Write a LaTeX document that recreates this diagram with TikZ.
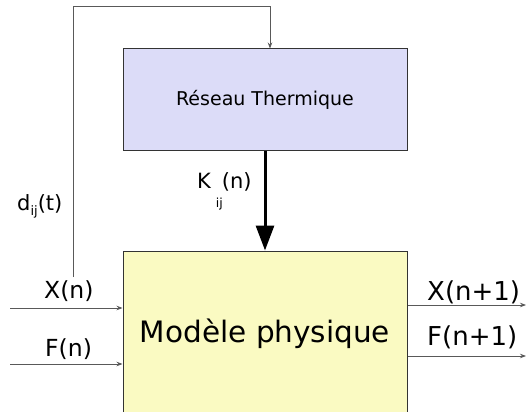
\documentclass[tikz,border=0pt]{standalone}
\usepackage{fontspec}
\setmainfont{DejaVu Sans}
\usetikzlibrary{arrows.meta,calc}

\definecolor{fondreseau}{RGB}{220,220,248}
\definecolor{fondmodele}{RGB}{250,250,194}

\begin{document}
\begin{tikzpicture}[x=1pt, y=-1pt,
    bloc/.style={draw=black!80, line width=1pt, rectangle, minimum width=284pt, inner sep=0pt},
    flux/.style={draw=black!65, line width=0.8pt, -{Stealth[length=6pt,width=4.5pt]}},
    lbl/.style={anchor=base west, inner sep=0pt}
]
    \useasboundingbox (0,0) rectangle (528,412);

    % Blocs
    \node[bloc, fill=fondreseau, minimum height=101pt, font=\fontsize{19}{21}\selectfont] (reseau) at (265,99.5) {Réseau Thermique};
    \node[bloc, fill=fondmodele, minimum height=166pt, font=\fontsize{29.5}{32}\selectfont] (modele) at (265,334) {Modèle physique};

    % Couplage
    \draw[line width=3pt, -{Triangle[length=25pt,width=18pt]}] (reseau.south) -- (modele.north);
    \node[lbl, font=\fontsize{21}{23}\selectfont] (kij) at (197,188) {K\kern5pt\raisebox{-19pt}{\fontsize{12.5}{13}\selectfont ij}\kern-1pt(n)};

    % Retour
    \coordinate (fbbas) at (73,277);
    \coordinate (fbhaut) at (270,6);
    \draw[flux] (fbbas) |- (fbhaut) -- (fbhaut |- reseau.north);
    \node[lbl, font=\fontsize{21}{23}\selectfont] (dij) at (17,210) {d\raisebox{-5pt}{\fontsize{13}{13}\selectfont ij}(t)};

    % Entrees
    \coordinate (xin) at (10,308);
    \coordinate (fin) at (10,364);
    \draw[flux] (xin) -- (xin -| modele.west);
    \draw[flux] (fin) -- (fin -| modele.west);
    \node[lbl, font=\fontsize{23.5}{25}\selectfont] (xn) at (44,298) {X(n)};
    \node[lbl, font=\fontsize{23.5}{25}\selectfont] (fn) at (45,356) {F(n)};

    % Sorties
    \coordinate (xout) at (526,305);
    \coordinate (fout) at (526,356);
    \draw[flux] (xout -| modele.east) -- (xout);
    \draw[flux] (fout -| modele.east) -- (fout);
    \node[lbl, font=\fontsize{26}{28}\selectfont] (xn1) at (427,300) {X(n+1)};
    \node[lbl, font=\fontsize{26}{28}\selectfont] (fn1) at (427,345) {F(n+1)};
\end{tikzpicture}
\end{document}
